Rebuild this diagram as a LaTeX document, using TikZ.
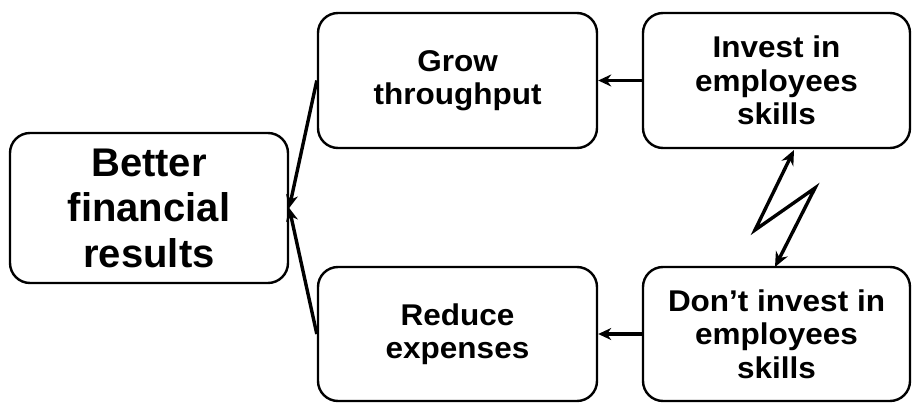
\documentclass[tikz,border=0pt]{standalone}
\usepackage{fontspec}
\setmainfont{Liberation Sans}
\newfontfamily\widefont[FakeStretch=1.05]{Liberation Sans}
\usetikzlibrary{arrows.meta}
\begin{document}
\begin{tikzpicture}[x=1pt,y=-1pt,
  box/.style={draw, line width=2.4pt, rounded corners=20pt, align=center,
    font=\widefont\bfseries\fontsize{30}{33.5}\selectfont, inner sep=0pt},
  arr/.style={line width=3.4pt, -{Stealth[length=13pt,width=12pt]}},
  bolt/.style={line width=3.4pt, line join=miter, {Stealth[length=15pt,width=13pt]}-{Stealth[length=15pt,width=13pt]}}]
\useasboundingbox (0,0) rectangle (916,409);
\node[box, minimum width=278pt, minimum height=150pt,
  font=\bfseries\fontsize{40}{45.5}\selectfont] (fin) at (149,208) {Better\\financial\\results};
\node[box, minimum width=279pt, minimum height=135pt] (grow) at (457.5,80.5) {Grow\\throughput};
\node[box, minimum width=279pt, minimum height=134pt] (red) at (457.5,334) {Reduce\\expenses};
\node[box, minimum width=267pt, minimum height=135pt] (inv) at (776.5,80.5) {Invest in\\employees\\skills};
\node[box, minimum width=267pt, minimum height=134pt] (don) at (776.5,334) {Don’t invest in\\employees\\skills};
\draw[arr] (grow.west) -- (fin.east);
\draw[arr] (red.west) -- (fin.east);
\draw[arr] (inv.west) -- (grow.east);
\draw[arr] (don.west) -- (red.east);
\coordinate (bt) at (794,150);
\coordinate (z1) at (755,230);
\coordinate (z2) at (815,188);
\coordinate (bb) at (775,267);
\draw[bolt] (bt) -- (z1) -- (z2) -- (bb);
\end{tikzpicture}
\end{document}
